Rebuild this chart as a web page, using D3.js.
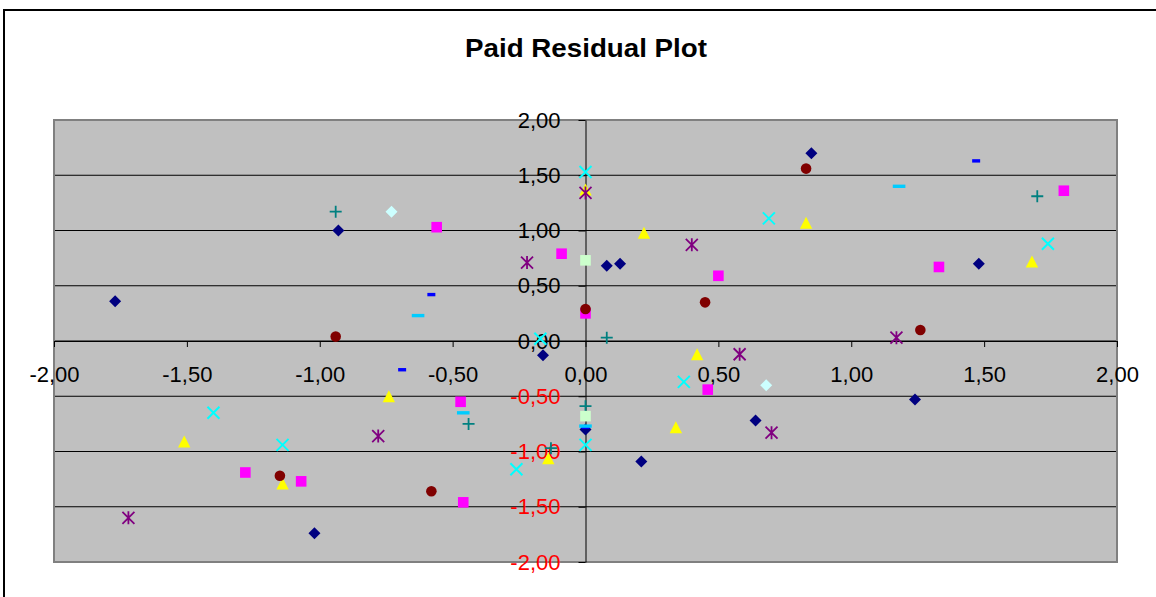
<!DOCTYPE html>
<html>
<head>
<meta charset="utf-8">
<script src="https://cdn.jsdelivr.net/npm/d3@7"></script>
<style>
  html, body { margin: 0; padding: 0; background: #fff; }
  svg { display: block; font-family: "Liberation Sans", Arial, sans-serif; }
</style>
</head>
<body>
<svg id="chart" width="1156" height="597"></svg>
<script>
// Standardised paid residuals, one array of [x, y] pairs per series
const series01 = [[-1.77, 0.36], [-0.93, 1.00], [0.08, 0.68], [0.13, 0.70], [0.85, 1.70], [1.48, 0.70],
                  [-0.16, -0.13], [0.00, -0.80], [0.21, -1.09], [0.64, -0.72], [1.24, -0.53], [-1.02, -1.74]];
const series02 = [[-0.56, 1.03], [-0.09, 0.79], [0.00, 0.25], [0.50, 0.59], [1.80, 1.36], [1.33, 0.67],
                  [-1.28, -1.19], [-1.07, -1.27], [-0.47, -0.55], [-0.46, -1.46], [0.46, -0.44]];
const series03 = [[0.00, 1.37], [0.22, 0.98], [0.83, 1.07], [1.68, 0.72], [-1.51, -0.91], [-1.14, -1.29],
                  [-0.74, -0.50], [-0.14, -1.06], [0.42, -0.12], [0.34, -0.78]];
const series04 = [[0.00, 1.53], [-0.17, 0.02], [0.69, 1.11], [1.74, 0.88], [-1.40, -0.65], [-1.14, -0.94],
                  [-0.26, -1.16], [0.37, -0.37], [0.00, -0.94]];
const series05 = [[0.00, 1.34], [-0.22, 0.71], [0.40, 0.87], [1.17, 0.03], [-1.72, -1.60], [-0.78, -0.86],
                  [0.58, -0.12], [0.70, -0.83]];
const series06 = [[-0.94, 0.04], [0.00, 0.29], [0.83, 1.56], [0.45, 0.35], [1.26, 0.10], [-1.15, -1.22],
                  [-0.58, -1.36]];
const series07 = [[-0.94, 1.17], [0.08, 0.03], [1.70, 1.31], [-0.44, -0.75], [-0.13, -0.97], [0.00, -0.59]];
const series08 = [[-0.58, 0.42], [1.47, 1.63], [-0.69, -0.26], [0.00, -0.78]];
const series09 = [[-0.63, 0.23], [1.18, 1.40], [-0.46, -0.65], [0.00, -0.77]];
const series10 = [[-0.73, 1.17], [0.68, -0.40]];
const series11 = [[0.00, 0.73], [0.00, -0.68]];

const allSeries = [series01, series02, series03, series04, series05, series06,
                   series07, series08, series09, series10, series11];

const xTicks = [-2, -1.5, -1, -0.5, 0, 0.5, 1, 1.5, 2];
const yTicks = [-2, -1.5, -1, -0.5, 0, 0.5, 1, 1.5, 2];
const chartTitle = "Paid Residual Plot";

// Marker look for each series, in drawing order
const markerStyles = [
  { shape: "diamond",   color: "#000080" },
  { shape: "square",    color: "#FF00FF" },
  { shape: "triangle",  color: "#FFFF00" },
  { shape: "x",         color: "#00FFFF" },
  { shape: "star",      color: "#800080" },
  { shape: "circle",    color: "#800000" },
  { shape: "plus",      color: "#008080" },
  { shape: "shortDash", color: "#0000FF" },
  { shape: "longDash",  color: "#00CCFF" },
  { shape: "diamond",   color: "#CCFFFF" },
  { shape: "square",    color: "#CCFFCC" }
];

const svg = d3.select("#chart");
const W = 1156, H = 597;
const plot = { left: 54, right: 1117, top: 120, bottom: 562 };

// Chart frame
svg.append("rect").attr("width", W).attr("height", H).attr("fill", "#fff");
svg.append("rect")
  .attr("x", 4).attr("y", 10).attr("width", 1300).attr("height", 800)
  .attr("fill", "none").attr("stroke", "#000").attr("stroke-width", 2);

// Title
svg.append("text")
  .attr("x", 586).attr("y", 57)
  .attr("text-anchor", "middle")
  .attr("font-size", 25).attr("font-weight", "bold")
  .attr("textLength", 242).attr("lengthAdjust", "spacingAndGlyphs")
  .text(chartTitle);

const x = d3.scaleLinear().domain([-2, 2]).range([plot.left, plot.right]);
const y = d3.scaleLinear().domain([-2, 2]).range([plot.bottom, plot.top]);
const fmt = v => d3.format(".2f")(v).replace(".", ",").replace("−", "-");

// Plot area
svg.append("rect")
  .attr("x", plot.left).attr("y", plot.top)
  .attr("width", plot.right - plot.left).attr("height", plot.bottom - plot.top)
  .attr("fill", "#C0C0C0");

// Horizontal gridlines
svg.append("g").selectAll("line").data(yTicks).join("line")
  .attr("x1", plot.left).attr("x2", plot.right)
  .attr("y1", d => y(d)).attr("y2", d => y(d))
  .attr("stroke", "#000").attr("stroke-width", 1);

// Plot area border
svg.append("rect")
  .attr("x", plot.left).attr("y", plot.top)
  .attr("width", plot.right - plot.left).attr("height", plot.bottom - plot.top)
  .attr("fill", "none").attr("stroke", "#808080").attr("stroke-width", 2);

// X axis crossing at y = 0
const xAxis = svg.append("g")
  .attr("transform", `translate(0,${y(0)})`)
  .call(d3.axisBottom(x).tickValues(xTicks).tickFormat(fmt)
          .tickSizeInner(6).tickSizeOuter(0).tickPadding(19));
xAxis.select(".domain").attr("stroke", "#000");
xAxis.selectAll(".tick line").attr("stroke", "#000");
xAxis.selectAll(".tick text")
  .attr("font-size", 22).attr("fill", "#000")
  .attr("font-family", "'Liberation Sans', Arial, sans-serif");

// Y axis crossing at x = 0
const yAxis = svg.append("g")
  .attr("transform", `translate(${x(0)},0)`)
  .call(d3.axisLeft(y).tickValues(yTicks).tickFormat(fmt)
          .tickSizeInner(7).tickSizeOuter(0).tickPadding(18));
yAxis.select(".domain").attr("stroke", "#000");
yAxis.selectAll(".tick line").attr("stroke", "#000");
yAxis.selectAll(".tick text")
  .attr("font-size", 22)
  .attr("fill", d => d < 0 ? "#FF0000" : "#000")
  .attr("font-family", "'Liberation Sans', Arial, sans-serif");

// Marker drawing
function drawMarker(g, shape, color) {
  switch (shape) {
    case "diamond":
      g.append("path").attr("d", "M0,-6L6,0L0,6L-6,0Z").attr("fill", color);
      break;
    case "square":
      g.append("rect").attr("x", -5.3).attr("y", -5.3).attr("width", 10.6).attr("height", 10.6).attr("fill", color);
      break;
    case "triangle":
      g.append("path").attr("d", "M0,-6L6.2,6L-6.2,6Z").attr("fill", color);
      break;
    case "circle":
      g.append("circle").attr("r", 5.3).attr("fill", color);
      break;
    case "x":
      g.append("path").attr("d", "M-6,-6L6,6M-6,6L6,-6")
        .attr("stroke", color).attr("stroke-width", 2).attr("fill", "none");
      break;
    case "star":
      g.append("path").attr("d", "M-6,-6L6,6M-6,6L6,-6M0,-6.5L0,6.5")
        .attr("stroke", color).attr("stroke-width", 1.8).attr("fill", "none");
      break;
    case "plus":
      g.append("path").attr("d", "M-6,0L6,0M0,-6L0,6")
        .attr("stroke", color).attr("stroke-width", 1.8).attr("fill", "none");
      break;
    case "shortDash":
      g.append("rect").attr("x", -4).attr("y", -1.7).attr("width", 8).attr("height", 3.4).attr("fill", color);
      break;
    case "longDash":
      g.append("rect").attr("x", -6.3).attr("y", -1.7).attr("width", 12.6).attr("height", 3.4).attr("fill", color);
      break;
  }
}

const marks = svg.append("g");
allSeries.forEach((pts, i) => {
  const style = markerStyles[i];
  marks.append("g").selectAll("g").data(pts).join("g")
    .attr("transform", d => `translate(${x(d[0])},${y(d[1])})`)
    .each(function () { drawMarker(d3.select(this), style.shape, style.color); });
});
</script>
</body>
</html>
